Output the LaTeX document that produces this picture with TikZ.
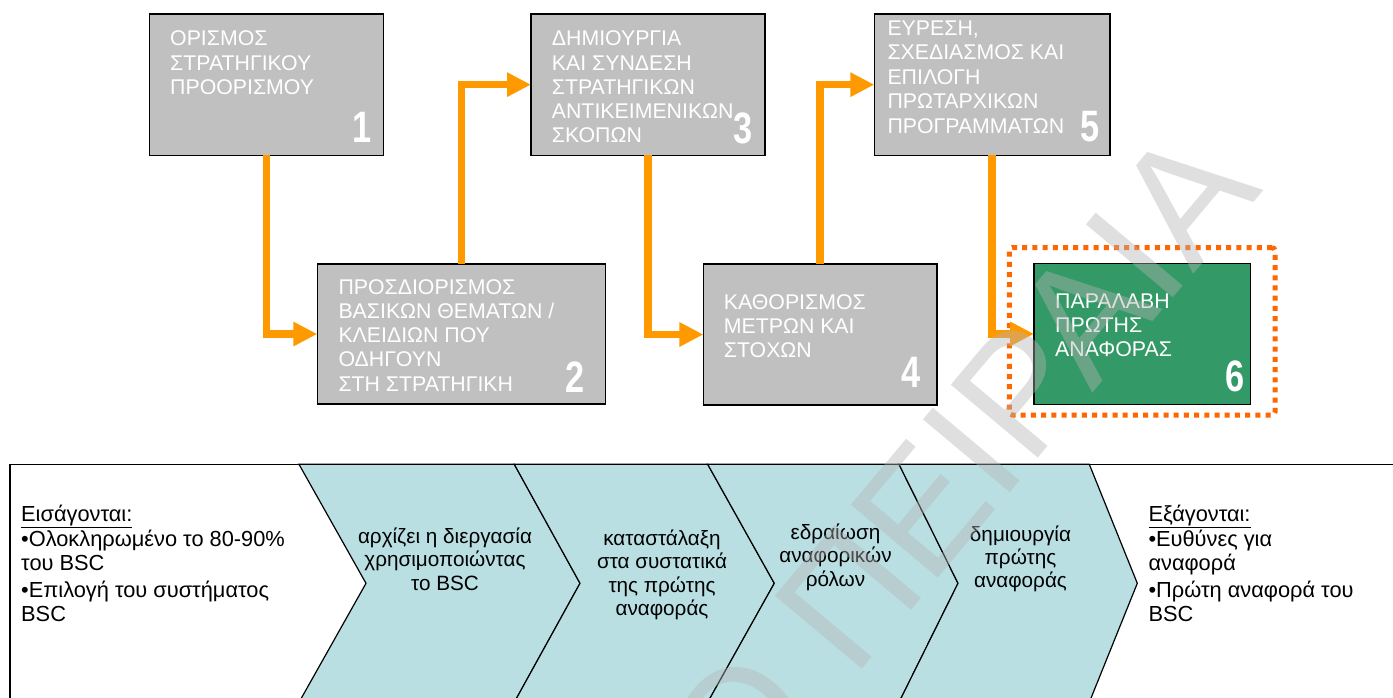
\documentclass[tikz,border=0pt]{standalone}
\usepackage{fontspec}
\setmainfont{Liberation Sans}
\usepackage{graphicx}
\usetikzlibrary{arrows.meta}

\definecolor{boxgray}{RGB}{192,192,192}
\definecolor{boxgreen}{RGB}{51,153,102}
\definecolor{flow}{RGB}{255,153,0}
\definecolor{frameorange}{RGB}{255,102,0}
\definecolor{chevfill}{RGB}{185,223,227}
\definecolor{wmgray}{RGB}{181,181,181}

% multi-line text blocks; the node's base is the first line's baseline
\newcommand{\boxlines}[2][24.3pt]{\parbox[t]{300pt}{\raggedright\fontsize{21.3pt}{#1}\selectfont #2}}
\newcommand{\chevlines}[1]{\parbox[t]{200pt}{\centering\fontsize{20.7pt}{23.4pt}\selectfont #1}}
\newcommand{\sidelines}[1]{\parbox[t]{300pt}{\raggedright\fontsize{21.8pt}{23.5pt}\selectfont #1}}
\newcommand{\stepdigit}[1]{\scalebox{0.78}[1]{\fontsize{44pt}{44pt}\selectfont\bfseries #1}}

\tikzset{
  topbox/.style={draw=black, line width=1.5pt, fill=boxgray, inner sep=0pt, outer sep=0pt, anchor=north west},
  greenbox/.style={topbox, fill=boxgreen},
  boxtext/.style={anchor=base west, inner sep=0pt, text=white},
  digit/.style={anchor=base east, inner sep=0pt, text=white},
  flowarrow/.style={draw=flow, line width=7.5pt, line join=miter, -{Triangle[length=24pt,width=23pt]}},
  focusframe/.style={draw=frameorange, line width=5pt, dash pattern=on 5pt off 5.2pt, rounded corners=3pt},
  bandline/.style={draw=black, line width=1.5pt},
  chevron/.style={draw=black, line width=1.2pt, fill=chevfill, line join=miter},
  chevtext/.style={anchor=base, inner sep=0pt, text=black},
  sidetext/.style={anchor=base west, inner sep=0pt, text=black},
  watermark/.style={anchor=base east, inner sep=0pt, rotate=50, text=wmgray, text opacity=0.42,
    font=\fontsize{165pt}{165pt}\selectfont}
}

\begin{document}
\begin{tikzpicture}[x=1pt,y=-1pt]
\useasboundingbox (0,0) rectangle (1393,697);
\clip (0,0) rectangle (1393,697);
\fill[white] (0,0) rectangle (1393,697);

% process steps
\node[topbox, minimum width=234.4pt, minimum height=141.3pt] (b1) at (149.3,14) {};
\node[topbox, minimum width=288.4pt, minimum height=140pt]   (b2) at (317.3,264) {};
\node[topbox, minimum width=234pt,   minimum height=141.3pt] (b3) at (531,14) {};
\node[topbox, minimum width=233.4pt, minimum height=141pt]   (b4) at (703.4,264) {};
\node[topbox, minimum width=235.7pt, minimum height=141.3pt] (b5) at (874.3,14) {};
\node[greenbox, minimum width=216.5pt, minimum height=140.8pt] (b6) at (1034,263.5) {};

% dotted highlight round the last step
\node[focusframe, inner sep=0pt, outer sep=0pt, anchor=north west,
      minimum width=265.7pt, minimum height=167.3pt] (hl) at (1009.3,247.7) {};

% flow between the steps
\draw[flowarrow] (b1.south) |- (b2.west);
\draw[flowarrow] (b2.north) |- (b3.west);
\draw[flowarrow] (b3.south) |- (b4.west);
\draw[flowarrow] (b4.north) |- (b5.west);
\draw[flowarrow] (b5.south) |- (b6.west);

% step labels
\node[boxtext] (t1) at (170,45.7)   {\boxlines{ΟΡΙΣΜΟΣ\\ ΣΤΡΑΤΗΓΙΚΟΥ\\ ΠΡΟΟΡΙΣΜΟΥ}};
\node[boxtext] (t2) at (338.3,294)  {\boxlines{ΠΡΟΣΔΙΟΡΙΣΜΟΣ\\ ΒΑΣΙΚΩΝ ΘΕΜΑΤΩΝ /\\ ΚΛΕΙΔΙΩΝ ΠΟΥ\\ ΟΔΗΓΟΥΝ\\ ΣΤΗ ΣΤΡΑΤΗΓΙΚΗ}};
\node[boxtext] (t3) at (551.7,45.7) {\boxlines{ΔΗΜΙΟΥΡΓΙΑ\\ ΚΑΙ ΣΥΝΔΕΣΗ\\ ΣΤΡΑΤΗΓΙΚΩΝ\\ ΑΝΤΙΚΕΙΜΕΝΙΚΩΝ\\ ΣΚΟΠΩΝ}};
\node[boxtext] (t4) at (723.7,309)  {\boxlines{ΚΑΘΟΡΙΣΜΟΣ\\ ΜΕΤΡΩΝ ΚΑΙ\\ ΣΤΟΧΩΝ}};
\node[boxtext] (t5) at (887.3,35)   {\boxlines[24.6pt]{ΕΥΡΕΣΗ,\\ ΣΧΕΔΙΑΣΜΟΣ ΚΑΙ\\ ΕΠΙΛΟΓΗ\\ ΠΡΩΤΑΡΧΙΚΩΝ\\ ΠΡΟΓΡΑΜΜΑΤΩΝ}};
\node[boxtext] (t6) at (1055,308.3) {\boxlines{ΠΑΡΑΛΑΒΗ\\ ΠΡΩΤΗΣ\\ ΑΝΑΦΟΡΑΣ}};

% step numbers
\node[digit] (n1) at (371.5,142) {\stepdigit{1}};
\node[digit] (n2) at (585,392)   {\stepdigit{2}};
\node[digit] (n3) at (753,143)   {\stepdigit{3}};
\node[digit] (n4) at (921,387)   {\stepdigit{4}};
\node[digit] (n5) at (1100,141)  {\stepdigit{5}};
\node[digit] (n6) at (1245,391)  {\stepdigit{6}};

% lower band with the process chevrons
\draw[bandline] (1400,464.3) -- (10,464.3) -- (10,710);
\draw[chevron] (299,464.3) -- (514.3,464.3) -- (580,583.3) -- (514.3,702.3) -- (299,702.3) -- (366,583.3) -- cycle;
\draw[chevron] (514.3,464.3) -- (707.7,464.3) -- (774.3,583.3) -- (707.7,702.3) -- (514.3,702.3) -- (580,583.3) -- cycle;
\draw[chevron] (707.7,464.3) -- (899,464.3) -- (958,583.3) -- (899,702.3) -- (707.7,702.3) -- (774.3,583.3) -- cycle;
\draw[chevron] (899,464.3) -- (1089.3,464.3) -- (1137.3,583.3) -- (1089.3,702.3) -- (899,702.3) -- (958,583.3) -- cycle;

\node[chevtext] (c1) at (445,543.3)    {\chevlines{αρχίζει η διεργασία\\ χρησιμοποιώντας\\ το BSC}};
\node[chevtext] (c2) at (662,545.5)    {\chevlines{καταστάλαξη\\ στα συστατικά\\ της πρώτης\\ αναφοράς}};
\node[chevtext] (c3) at (835.5,539.5)  {\chevlines{εδραίωση\\ αναφορικών\\ ρόλων}};
\node[chevtext] (c4) at (1020.5,541)   {\chevlines{δημιουργία\\ πρώτης\\ αναφοράς}};

% inputs and outputs
\node[sidetext] (inp) at (21,521) {\sidelines{\underline{Εισάγονται:}\\[2pt] •Ολοκληρωμένο το 80-90\%\\ του BSC\\[4pt] •Επιλογή του συστήματος\\ BSC}};
\node[sidetext] (out) at (1148.3,521) {\sidelines{\underline{Εξάγονται:}\\[2pt] •Ευθύνες για\\ αναφορά\\[4pt] •Πρώτη αναφορά του\\ BSC}};

% repository watermark
\node[watermark] (wm) at (1264,190) {ΠΑΝΕΠΙΣΤΗΜΙΟ ΠΕΙΡΑΙΑ};
\end{tikzpicture}
\end{document}
